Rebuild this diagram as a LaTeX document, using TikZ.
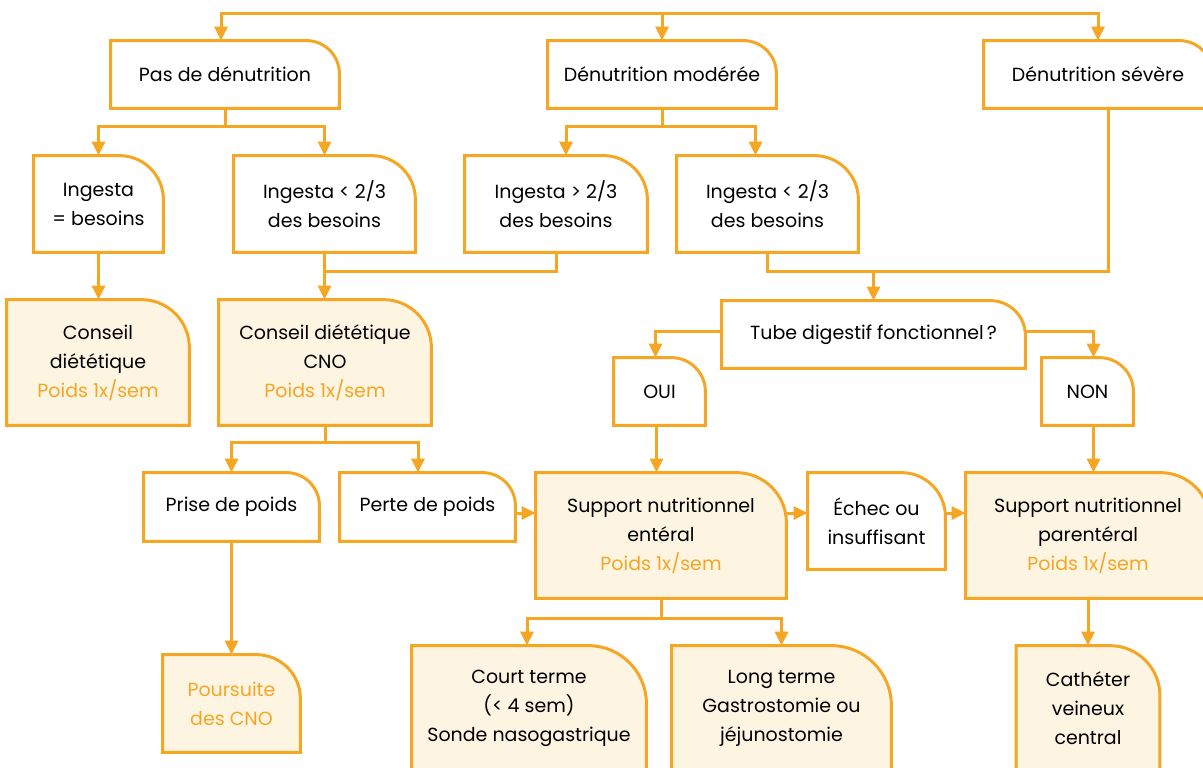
\documentclass[tikz,border=0pt]{standalone}
\usepackage{fontspec}
\setmainfont{Poppins}
\usetikzlibrary{arrows.meta,calc,backgrounds}
\definecolor{org}{RGB}{245,166,35}
\definecolor{cream}{RGB}{254,244,226}
\newcommand{\cbox}[3]{%
  \begin{pgfonlayer}{background}
  \draw[line width=1.5pt, draw=org, fill=#3, line join=miter]
    (#1.south west) -- (#1.north west) -- ([xshift=-#2]#1.north east)
    arc[start angle=90,end angle=0,radius=#2] -- (#1.south east) -- cycle;
  \end{pgfonlayer}}
\tikzset{
  bx/.style 2 args={rectangle, inner sep=0pt, minimum width=#1*0.5pt, minimum height=#2*0.5pt,
    align=center, font=\fontsize{9.5}{14.5}\selectfont, text=black},
  arr/.style={draw=org, line width=1.5pt, -{Triangle[length=7pt,width=6.5pt]}},
  ln/.style={draw=org, line width=1.5pt},
  hl/.style={text=org}
}
\begin{document}
\begin{tikzpicture}[x=0.5pt,y=-0.5pt]
\useasboundingbox (0,0) rectangle (1203,767);
\clip (0,0) rectangle (1203,767);
% nodes
\node[bx={228}{67}] (pas) at (225,74.5) {Pas de dénutrition};
\node[bx={228}{67}] (mod) at (662,74.5) {Dénutrition modérée};
\node[bx={228}{67}] (sev) at (1098,74.5) {Dénutrition sévère};
\node[bx={129}{96}] (ieq) at (98.5,204) {Ingesta\\= besoins};
\node[bx={181}{96}] (il) at (324.5,204) {Ingesta < 2/3\\des besoins};
\node[bx={182}{96}] (ig) at (556,204) {Ingesta > 2/3\\des besoins};
\node[bx={181}{96}] (ir) at (767.5,204) {Ingesta < 2/3\\des besoins};
\node[bx={182}{125}] (cd) at (98,362.5) {Conseil\\diététique\\\textcolor{org}{Poids 1x/sem}};
\node[bx={212}{125}] (cno) at (325,362.5) {Conseil diététique\\CNO\\\textcolor{org}{Poids 1x/sem}};
\node[bx={303}{67}] (tube) at (873.5,334.5) {Tube digestif fonctionnel\,?};
\node[bx={91}{67}] (oui) at (659.5,391.5) {OUI};
\node[bx={91}{67}] (non) at (1087.5,391.5) {NON};
\node[bx={175}{68}] (prise) at (231.5,507) {Prise de poids};
\node[bx={175}{68}] (perte) at (427.5,507) {Perte de poids};
\node[bx={250}{125}] (ent) at (661,535.5) {Support nutritionnel\\entéral\\\textcolor{org}{Poids 1x/sem}};
\node[bx={137}{96}] (echec) at (876.5,521) {Échec ou\\insuffisant};
\node[bx={244}{125}] (par) at (1088,535.5) {Support nutritionnel\\parentéral\\\textcolor{org}{Poids 1x/sem}};
\node[bx={137}{97}, hl] (pour) at (231.5,703.5) {Poursuite\\des CNO};
\node[bx={234}{125}] (court) at (529,708.5) {Court terme\\(< 4 sem)\\Sonde nasogastrique};
\node[bx={219}{125}] (long) at (781.5,708.5) {Long terme\\Gastrostomie ou\\jéjunostomie};
\node[bx={143}{125}] (cath) at (1088,708.5) {Cathéter\\veineux\\central};
% shapes
\cbox{pas}{16.5pt}{white}
\cbox{mod}{16.5pt}{white}
\cbox{sev}{16.5pt}{white}
\cbox{ieq}{22pt}{white}
\cbox{il}{22pt}{white}
\cbox{ig}{22pt}{white}
\cbox{ir}{22pt}{white}
\cbox{cd}{24pt}{cream}
\cbox{cno}{24pt}{cream}
\cbox{tube}{17.5pt}{white}
\cbox{oui}{17pt}{white}
\cbox{non}{17pt}{white}
\cbox{prise}{16.5pt}{white}
\cbox{perte}{16.5pt}{white}
\cbox{ent}{25pt}{cream}
\cbox{echec}{22pt}{white}
\cbox{par}{25pt}{cream}
\cbox{pour}{22pt}{cream}
\cbox{court}{29pt}{cream}
\cbox{long}{30pt}{cream}
\cbox{cath}{25pt}{cream}
% connectors
\coordinate (top) at (662,13);
\draw[arr] (top) -| ([xshift=-2pt]pas.north);
\draw[arr] (top) -- (mod.north);
\draw[arr] (top) -| (sev.north);
\draw[arr] (pas.south) -- ++(0,18) -| (ieq.north);
\draw[arr] (pas.south) -- ++(0,18) -| (il.north);
\draw[arr] (mod.south) -- ++(0,18) -| ([xshift=5pt]ig.north);
\draw[arr] (mod.south) -- ++(0,18) -| ([xshift=-6pt]ir.north);
\draw[arr] (ieq.south) -- (ieq.south |- cd.north);
\draw[arr] (il.south) -- (il.south |- cno.north);
\coordinate (j1) at (il.south |- 0,271);
\draw[ln] (ig.south) |- (j1);
\coordinate (sevs) at ([xshift=5pt]sev.south);
\draw[ln] (ir.south) |- (sevs |- 0,271) -- (sevs);
\coordinate (j2) at (tube.north |- 0,271);
\draw[arr] (j2) -- (tube.north);
\draw[arr] ([yshift=1.5pt]tube.west) -| ([xshift=-2pt]oui.north);
\draw[arr] ([yshift=1.5pt]tube.east) -| ([xshift=3pt]non.north);
\draw[arr] ([xshift=-1.5pt]oui.south) -- ([xshift=-1.5pt]oui.south |- ent.north);
\draw[arr] ([xshift=3pt]non.south) -- ([xshift=3pt]non.south |- par.north);
\draw[arr] (cno.south) -- ++(0,17) -| (prise.north);
\draw[arr] (cno.south) -- ++(0,17) -| ([xshift=-4.75pt]perte.north);
\coordinate (pe) at ([yshift=-3pt]perte.east);
\draw[arr] (pe) -- (pe -| ent.west);
\coordinate (ee) at (ent.east |- 0,513);
\draw[arr] (ee) -- (ee -| echec.west);
\coordinate (ep) at (echec.east |- 0,513);
\draw[arr] (ep) -- (ep -| par.west);
\draw[arr] (prise.south) -- (prise.south |- pour.north);
\draw[arr] (ent.south) -- ++(0,20) -| ([xshift=-1pt]court.north);
\draw[arr] (ent.south) -- ++(0,20) -| (long.north);
\draw[arr] (par.south) -- (par.south |- cath.north);
\end{tikzpicture}
\end{document}
